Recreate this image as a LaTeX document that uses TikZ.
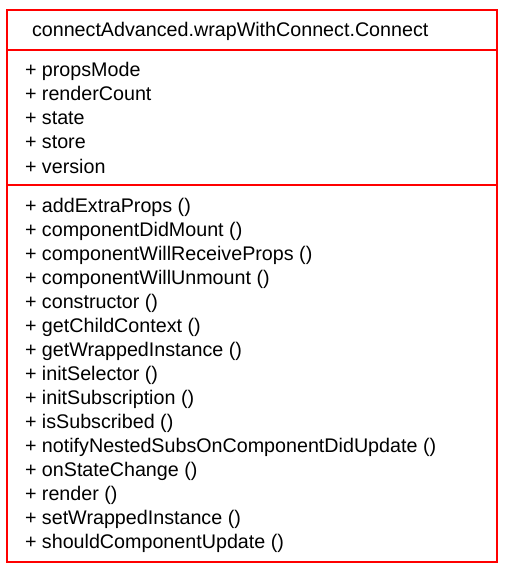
\documentclass[tikz,border=0pt]{standalone}
\usepackage{fontspec}
\setmainfont{Liberation Sans}
\definecolor{umlred}{RGB}{255,0,0}
\begin{document}
\begin{tikzpicture}[x=1pt,y=-1pt,
  txt/.style={anchor=base west,inner sep=0pt,outer sep=0pt,font=\fontsize{19.7}{24}\selectfont,text=black},
  frame/.style={draw=umlred,line width=2pt}]
\useasboundingbox (0,0) rectangle (504,572);
\draw[frame] (7,10) rectangle (497,562);
\coordinate (s1l) at (7,50); \coordinate (s1r) at (497,50);
\coordinate (s2l) at (7,185); \coordinate (s2r) at (497,185);
\draw[frame] (s1l) -- (s1r);
\draw[frame] (s2l) -- (s2r);
\node[txt] (title) at (32,37) {connectAdvanced.wrapWithConnect.Connect};
\foreach \t [count=\i from 0] in {propsMode,renderCount,state,store,version}
  \node[txt] (a\i) at (25,{77+24*\i}) {+ \t};
\foreach \t [count=\i from 0] in {addExtraProps (),componentDidMount (),componentWillReceiveProps (),componentWillUnmount (),constructor (),getChildContext (),getWrappedInstance (),initSelector (),initSubscription (),isSubscribed (),notifyNestedSubsOnComponentDidUpdate (),onStateChange (),render (),setWrappedInstance (),shouldComponentUpdate ()}
  \node[txt] (m\i) at (25,{212+24*\i}) {+ \t};
\end{tikzpicture}
\end{document}
